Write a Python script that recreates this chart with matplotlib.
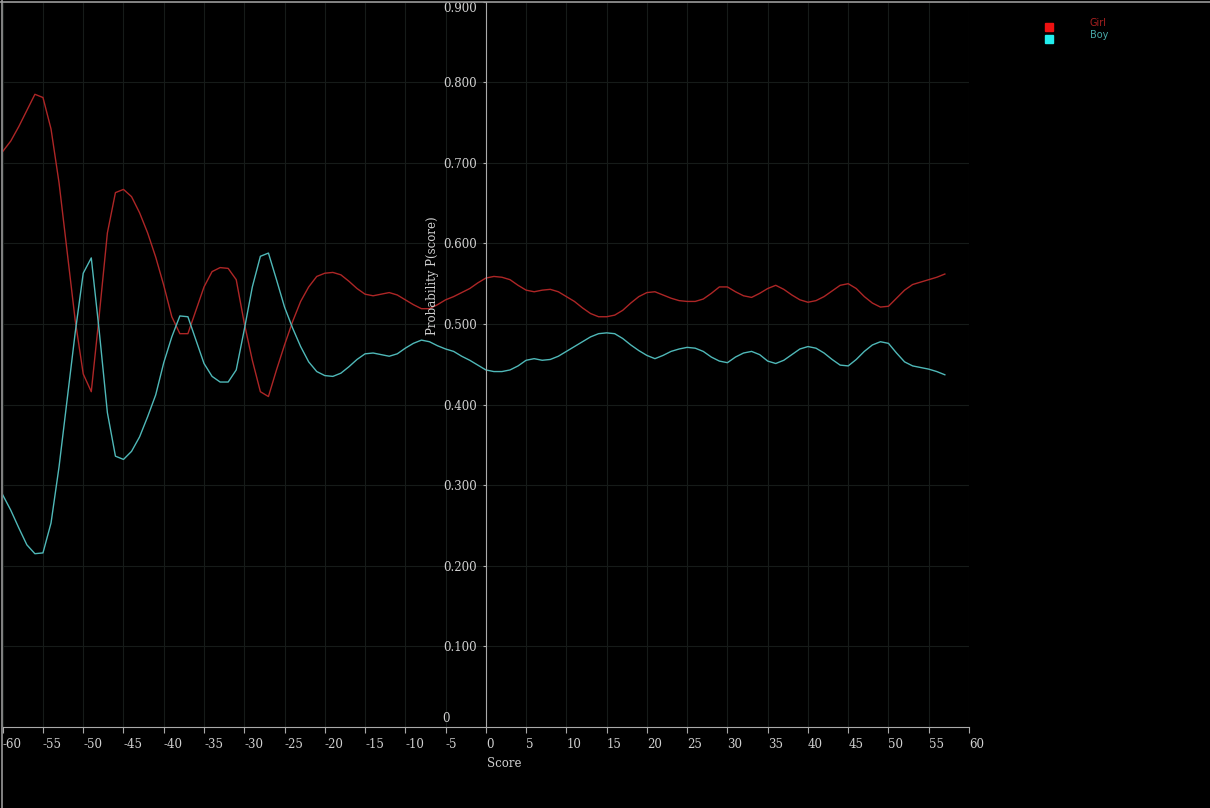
import numpy as np
import matplotlib.pyplot as plt
from matplotlib.patches import Rectangle
from matplotlib.lines import Line2D

# score axis
score = np.arange(-60, 58)

girl = [0.714, 0.727, 0.745, 0.765, 0.785, 0.781, 0.742, 0.675, 0.590, 0.505,
        0.438, 0.416, 0.512, 0.613, 0.663, 0.667, 0.658, 0.638, 0.613, 0.583,
        0.548, 0.509, 0.488, 0.488, 0.517, 0.546, 0.565, 0.570, 0.569, 0.555,
        0.501, 0.455, 0.416, 0.410, 0.443, 0.474, 0.503, 0.528, 0.546, 0.559,
        0.563, 0.564, 0.561, 0.553, 0.544, 0.537, 0.535, 0.537, 0.539, 0.536,
        0.530, 0.524, 0.519, 0.519, 0.524, 0.530, 0.534, 0.539, 0.544, 0.551,
        0.557, 0.559, 0.558, 0.555, 0.548, 0.542, 0.540, 0.542, 0.543, 0.540,
        0.534, 0.528, 0.520, 0.513, 0.509, 0.509, 0.511, 0.517, 0.526, 0.534,
        0.539, 0.540, 0.536, 0.532, 0.529, 0.528, 0.528, 0.531, 0.538, 0.546,
        0.546, 0.540, 0.535, 0.533, 0.538, 0.544, 0.548, 0.543, 0.536, 0.530,
        0.527, 0.529, 0.534, 0.541, 0.548, 0.550, 0.544, 0.534, 0.526, 0.521,
        0.522, 0.532, 0.542, 0.549, 0.552, 0.555, 0.558, 0.562]

boy = [0.288, 0.269, 0.247, 0.226, 0.215, 0.216, 0.253, 0.323, 0.406, 0.489,
       0.563, 0.582, 0.490, 0.390, 0.336, 0.332, 0.342, 0.360, 0.385, 0.412,
       0.452, 0.484, 0.510, 0.509, 0.480, 0.451, 0.435, 0.428, 0.428, 0.443,
       0.493, 0.546, 0.584, 0.588, 0.555, 0.521, 0.495, 0.472, 0.453, 0.441,
       0.436, 0.435, 0.439, 0.447, 0.456, 0.463, 0.464, 0.462, 0.460, 0.463,
       0.470, 0.476, 0.480, 0.478, 0.473, 0.469, 0.466, 0.460, 0.455, 0.449,
       0.443, 0.441, 0.441, 0.443, 0.448, 0.455, 0.457, 0.455, 0.456, 0.460,
       0.466, 0.472, 0.478, 0.484, 0.488, 0.489, 0.488, 0.482, 0.474, 0.467,
       0.461, 0.457, 0.461, 0.466, 0.469, 0.471, 0.470, 0.466, 0.459, 0.454,
       0.452, 0.459, 0.464, 0.466, 0.462, 0.454, 0.451, 0.455, 0.462, 0.469,
       0.472, 0.470, 0.464, 0.456, 0.449, 0.448, 0.456, 0.466, 0.474, 0.478,
       0.476, 0.464, 0.453, 0.448, 0.446, 0.444, 0.441, 0.437]

xticks = np.arange(-60, 61, 5)
yticks = np.arange(1, 10) / 10

fig = plt.figure(figsize=(12.1, 8.08), dpi=100, facecolor='black')
ax = fig.add_axes([2.7 / 1210, 81 / 808, (969 - 2.7) / 1210, (727 - 1.6) / 808])
ax.set_facecolor('black')

ax.plot(score, girl, color='#ad2626', lw=1.0)
ax.plot(score, boy, color='#4fb8b8', lw=1.0)

ax.set_xlim(-60, 60)
ax.set_ylim(0, 0.9)

# axes look
for s in ['top', 'right']:
    ax.spines[s].set_visible(False)
ax.spines['left'].set_position(('data', 0))
ax.spines['left'].set_color('#aaaaaa')
ax.spines['bottom'].set_color('#aaaaaa')
ax.grid(True, color='#161b19', lw=0.8)
ax.set_axisbelow(True)

txt = '#d0d0d0'
ax.set_xticks(xticks)
ax.set_xticklabels([str(t) for t in xticks], family='DejaVu Serif', fontsize=8.5, color=txt)
for lbl in ax.get_xticklabels():
    lbl.set_ha('left')
ax.tick_params(axis='x', colors='#aaaaaa', length=4, width=0.8, pad=4)

ax.set_yticks(yticks)
ax.set_yticklabels(['%.3f' % t for t in yticks], family='DejaVu Serif', fontsize=8.5, color=txt)
ax.tick_params(axis='y', colors='#aaaaaa', length=2.5, width=0.8, pad=4)
for lbl in ax.get_yticklabels():
    lbl.set_color(txt)
for lbl in ax.get_xticklabels():
    lbl.set_color(txt)
# top label sits at the very edge, keep it inside the picture
ax.get_yticklabels()[-1].set_va('top')

ax.text(-5, 0.003, '0', family='DejaVu Serif', fontsize=8.5, color=txt, ha='center', va='bottom')
ax.text(-6.6, 0.56, 'Probability P(score)', family='DejaVu Serif', fontsize=8.5,
        color=txt, rotation=90, ha='center', va='center')
ax.text(0.1, -0.045, 'Score', family='DejaVu Serif', fontsize=8.5, color=txt,
        ha='left', va='center', clip_on=False)

# legend
fig.add_artist(Rectangle((1045 / 1210, 1 - 31 / 808), 8 / 1210, 8 / 808,
                         transform=fig.transFigure, color='#ee1111'))
fig.add_artist(Rectangle((1045 / 1210, 1 - 43 / 808), 8 / 1210, 8 / 808,
                         transform=fig.transFigure, color='#22eeee'))
fig.text(1090 / 1210, 1 - 23 / 808, 'Girl', fontsize=7, color='#a82020', va='center', ha='left')
fig.text(1090 / 1210, 1 - 35 / 808, 'Boy', fontsize=7, color='#48a8a8', va='center', ha='left')

# image frame
fig.add_artist(Line2D([0, 1], [1 - 1.5 / 808, 1 - 1.5 / 808], transform=fig.transFigure,
                      color='#999999', lw=1.2))
fig.add_artist(Line2D([2.2 / 1210, 2.2 / 1210], [0, 1], transform=fig.transFigure,
                      color='#999999', lw=1.2))

fig.savefig('out.png', dpi=100, facecolor='black')
